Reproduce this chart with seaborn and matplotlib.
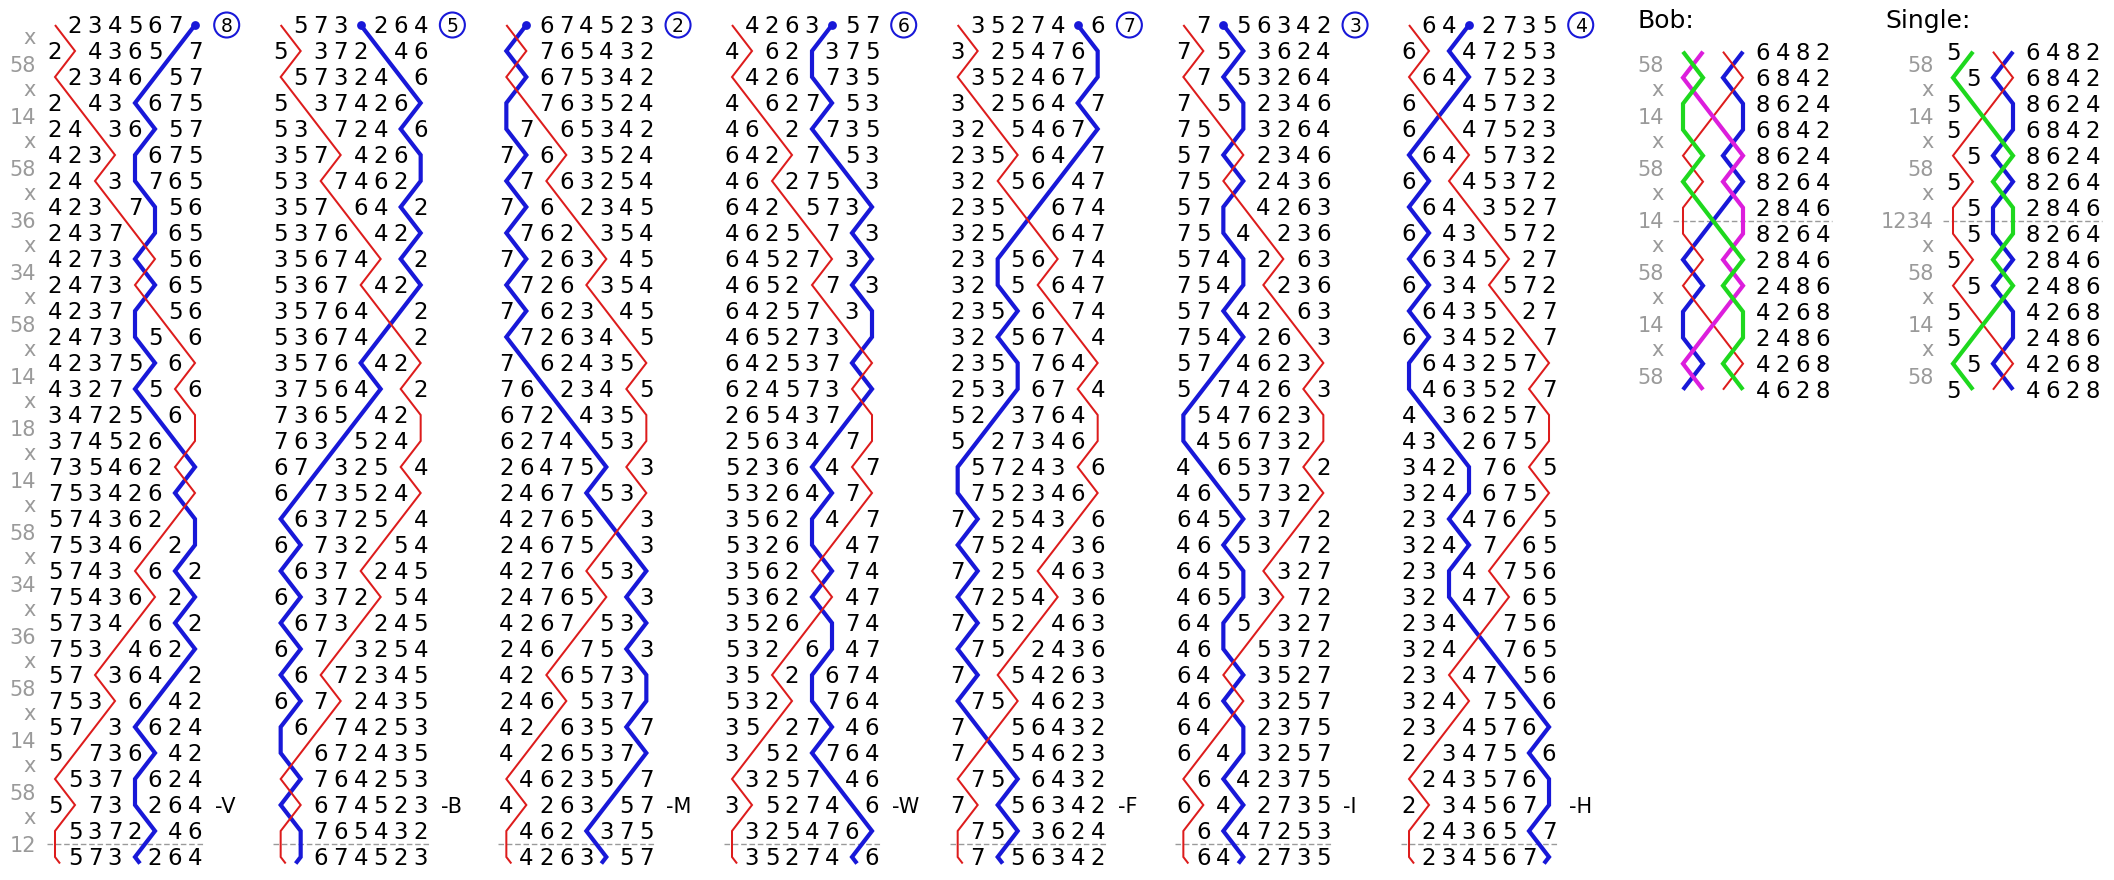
import matplotlib
matplotlib.use("Agg")
import matplotlib.pyplot as plt
import seaborn as sns
import pandas as pd
from matplotlib.patches import Circle

sns.set_theme(style="white")
plt.rcParams['font.family'] = ['DejaVu Sans']

# ---- data ----
place_notation = ["x", "58", "x", "14", "x", "58", "x", "36", "x", "34", "x", "58", "x", "14", "x", "18",
                  "x", "14", "x", "58", "x", "34", "x", "36", "x", "58", "x", "14", "x", "58", "x", "12"]
first_row = "12345678"
call_labels = ["-V", "-B", "-M", "-W", "-F", "-I", "-H"]
place_bells = [8, 5, 2, 6, 7, 3, 4]
line_bells = {"8": "blue", "1": "red"}

panel_start = "57136482"
bob_notation = ["58", "x", "14", "x", "58", "x", "14", "x", "58", "x", "14", "x", "58"]
single_notation = ["58", "x", "14", "x", "58", "x", "1234", "x", "58", "x", "14", "x", "58"]
bob_lines = {"3": "blue", "1": "red", "7": "magenta", "5": "green"}
single_lines = {"3": "blue", "1": "red", "7": "green"}

colors = {"blue": "#1818d8", "red": "#dd1c1c", "green": "#1ed81e", "magenta": "#dc1edc"}
widths = {"blue": 3.0, "red": 1.45, "green": 3.0, "magenta": 3.0}
grey = "#9a9a9a"

# ---- layout ----
PX, RY = 20.0, 26.0
COL_X0 = 55.0
COL_STEP = 225.67
Y0 = 25.0
BOB_X0, SINGLE_X0, PANEL_Y0 = 1683.0, 1953.0, 51.7
DPI = 100
FS = 16.5
FS_LAB = 15
FS_CIRC = 13.5


def change(row, pn):
    row = list(row)
    fixed = set() if pn == "x" else {int(c) for c in pn}
    i = 0
    while i < len(row):
        if (i + 1) in fixed:
            i += 1
        else:
            row[i], row[i + 1] = row[i + 1], row[i]
            i += 2
    return "".join(row)


def ring(start, notation):
    rows = [start]
    for pn in notation:
        rows.append(change(rows[-1], pn))
    return rows


def base_off(fs, h=0.729):
    # half the glyph height in pixels, so text sits centred on a row
    return h * fs * DPI / 72.0 / 2.0


fig = plt.figure(figsize=(21.14, 8.8), dpi=DPI)
ax = fig.add_axes([0, 0, 1, 1])
ax.set_xlim(0, 2114)
ax.set_ylim(880, 0)
ax.axis("off")


def draw_lines(rows, x0, y0, bells, tail_row=None, order=("blue", "red", "magenta", "green")):
    for col in order:
        for b, c in bells.items():
            if c != col:
                continue
            xs = [x0 + row.index(b) * PX for row in rows]
            ys = [y0 + r * RY for r in range(len(rows))]
            if tail_row is not None:
                nx = x0 + tail_row.index(b) * PX
                xs.append(xs[-1] + 0.25 * (nx - xs[-1]))
                ys.append(ys[-1] + 0.25 * RY)
            df = pd.DataFrame({"x": xs, "y": ys})
            sns.lineplot(data=df, x="x", y="y", sort=False, estimator=None, ax=ax,
                         color=colors[c], linewidth=widths[c], legend=False,
                         solid_joinstyle="miter", solid_capstyle="butt")


def draw_digits(rows, x0, y0, hidden):
    for r, row in enumerate(rows):
        for p, b in enumerate(row):
            if b in hidden:
                continue
            ax.text(x0 + p * PX, y0 + r * RY + base_off(FS), b, ha="center", va="baseline",
                    fontsize=FS, color="black")


def draw_notation(notation, x0, y0):
    for i, pn in enumerate(notation):
        h = 0.547 if pn == "x" else 0.729
        ax.text(x0 - 19, y0 + (i + 0.5) * RY + base_off(FS_LAB, h), pn, ha="right", va="baseline",
                fontsize=FS_LAB, color=grey)


# ---- plain course, one lead per column ----
lead_head = first_row
for k in range(len(call_labels)):
    x0 = COL_X0 + k * COL_STEP
    rows = ring(lead_head, place_notation)
    tail = change(rows[-1], place_notation[0])
    ax.plot([x0 - 8, x0 + 7 * PX + 8], [Y0 + 31.5 * RY] * 2, color=grey, lw=1.0,
            linestyle=(0, (4, 2)))
    draw_lines(rows, x0, Y0, line_bells, tail_row=tail)
    sns.scatterplot(x=[x0 + rows[0].index("8") * PX], y=[Y0], color=colors["blue"], s=40,
                    linewidth=0, ax=ax, legend=False, zorder=5)
    draw_digits(rows, x0, Y0, set(line_bells))
    cx = x0 + 7 * PX + 31.7
    ax.add_patch(Circle((cx, Y0), 12.5, fill=False, edgecolor=colors["blue"], lw=1.5))
    ax.text(cx, Y0 + base_off(FS_CIRC), str(place_bells[k]), ha="center", va="baseline",
            fontsize=FS_CIRC, color="black")
    ax.text(x0 + 8 * PX, Y0 + 30 * RY + base_off(FS_LAB), call_labels[k], ha="left",
            va="baseline", fontsize=FS_LAB, color="black")
    if k == 0:
        draw_notation(place_notation, x0, Y0)
    lead_head = rows[-1]

# ---- bob and single panels ----
for x0, notation, lines, title, tx in [(BOB_X0, bob_notation, bob_lines, "Bob:", 1638),
                                       (SINGLE_X0, single_notation, single_lines, "Single:", 1885)]:
    rows = ring(panel_start, notation)
    ax.plot([x0 - 10, x0 + 7 * PX + 9], [PANEL_Y0 + 6.5 * RY] * 2, color=grey, lw=1.0,
            linestyle=(0, (4, 2)))
    draw_lines(rows, x0, PANEL_Y0, lines)
    draw_digits(rows, x0, PANEL_Y0, set(lines))
    draw_notation(notation, x0, PANEL_Y0)
    ax.text(tx, 28.3, title, ha="left", va="baseline", fontsize=18, color="black")

fig.savefig("out.png", dpi=DPI)
